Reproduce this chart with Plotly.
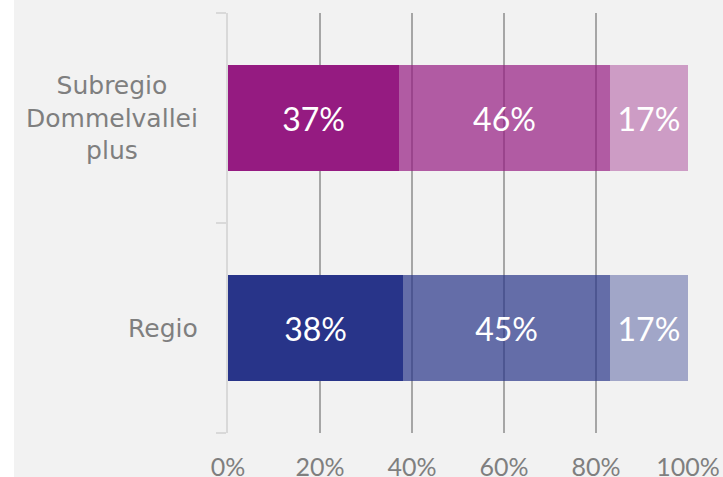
import plotly.graph_objects as go

# Categories, bottom to top
categories = ["Regio", "Subregio<br>Dommelvallei<br>plus"]

# Shares per segment (first, middle, last), one value per category
share_first = [0.381, 0.372]
share_middle = [0.449, 0.458]
share_last = [0.170, 0.170]

x_ticks = [0, 0.2, 0.4, 0.6, 0.8, 1.0]
x_tick_labels = ["0%", "20%", "40%", "60%", "80%", "100%"]

BLUE = (40, 52, 137)
PURPLE = (149, 27, 129)
FONT = "Lato"
LABEL_FONT = "DejaVu Sans"


def rgba(rgb, a):
    return f"rgba({rgb[0]},{rgb[1]},{rgb[2]},{a})"


base_colors = [BLUE, PURPLE]
segments = [(share_first, 1.0), (share_middle, 0.7), (share_last, 0.4)]

fig = go.Figure()
for values, alpha in segments:
    fig.add_trace(
        go.Bar(
            x=values,
            y=categories,
            orientation="h",
            width=0.505,
            marker=dict(color=[rgba(c, alpha) for c in base_colors], line=dict(width=0)),
            texttemplate="%{x:.0%}",
            textposition="inside",
            insidetextanchor="middle",
            textfont=dict(family=FONT, size=32, color="white"),
            hoverinfo="skip",
            showlegend=False,
        )
    )

# Category labels, block right-aligned, lines centred
for cat in categories:
    fig.add_annotation(
        x=-0.061,
        xref="paper",
        y=cat,
        yref="y",
        text=cat,
        showarrow=False,
        xanchor="right",
        align="center",
        font=dict(family=LABEL_FONT, size=25, color="#7f7f7f"),
    )

# thin white strip at the very left edge of the picture
fig.add_shape(
    type="rect",
    xref="paper",
    yref="paper",
    x0=-228 / 460,
    x1=-214 / 460,
    y0=-50 / 420,
    y1=1 + 20 / 420,
    fillcolor="white",
    line=dict(width=0),
    layer="below",
)

fig.update_layout(
    width=723,
    height=477,
    barmode="stack",
    paper_bgcolor="#f2f2f2",
    plot_bgcolor="#f2f2f2",
    margin=dict(l=228, r=35, t=13, b=44),
    font=dict(family=FONT, color="#7f7f7f"),
    xaxis=dict(
        range=[0, 1],
        tickvals=x_ticks,
        ticktext=x_tick_labels,
        showgrid=True,
        gridcolor="#a6a6a6",
        gridwidth=1.5,
        zeroline=False,
        showline=False,
        automargin=False,
        ticks="outside",
        ticklen=12,
        tickcolor="rgba(0,0,0,0)",
        tickfont=dict(family=FONT, size=25, color="#7f7f7f"),
    ),
    yaxis=dict(
        range=[-0.5, 1.5],
        showgrid=False,
        zeroline=False,
        showline=True,
        automargin=False,
        linecolor="#d9d9d9",
        linewidth=1.5,
        ticks="outside",
        tickson="boundaries",
        ticklen=10,
        tickcolor="#d9d9d9",
        tickwidth=1.5,
        showticklabels=False,
    ),
)

fig.write_html(
    "out.html",
    config={"responsive": False, "displayModeBar": False},
    post_script="document.body.style.margin='0';document.body.style.overflow='hidden';",
)
